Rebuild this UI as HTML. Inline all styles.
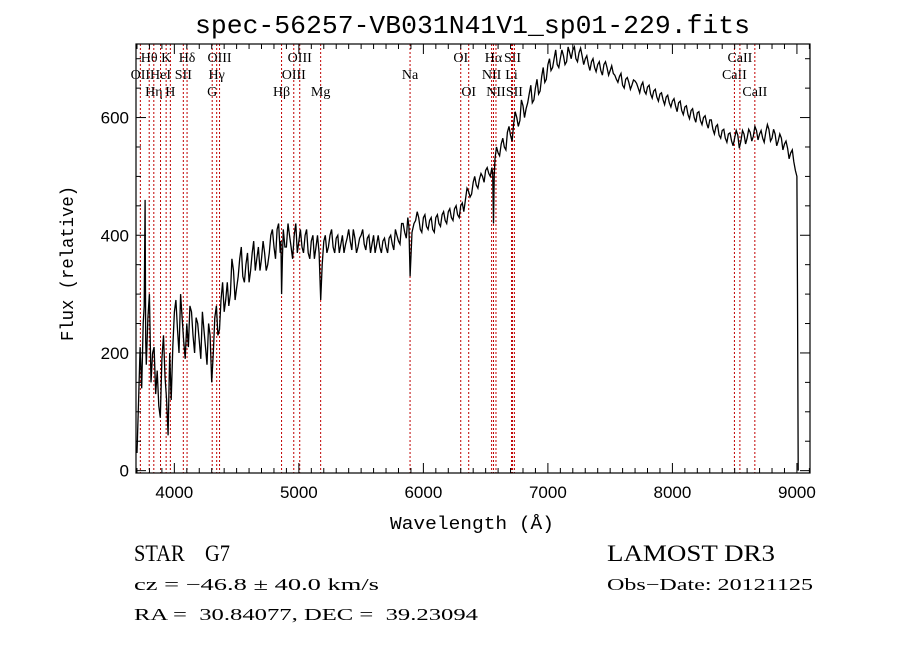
<!DOCTYPE html>
<html><head><meta charset="utf-8"><style>
html,body{margin:0;padding:0;background:#fff;width:900px;height:649px;overflow:hidden}
svg{display:block}
text{white-space:pre}
</style></head><body>
<svg id="chart" width="900" height="649" viewBox="0 0 900 649" xmlns="http://www.w3.org/2000/svg" xml:space="preserve">
<text x="195" y="33" font-family="Liberation Mono, monospace" font-size="26" textLength="555" lengthAdjust="spacingAndGlyphs">spec-56257-VB031N41V1_sp01-229.fits</text>
<g id="lines"></g>
<g id="series"></g>
<g id="axes"></g>
<text x="390" y="529" font-family="Liberation Mono, monospace" font-size="18" textLength="164" lengthAdjust="spacingAndGlyphs">Wavelength (Å)</text>
<text transform="translate(73,341) rotate(-90)" font-family="Liberation Mono, monospace" font-size="18" textLength="155" lengthAdjust="spacingAndGlyphs">Flux (relative)</text>
<text x="134" y="561" font-family="Liberation Serif, serif" font-size="23" textLength="96" lengthAdjust="spacingAndGlyphs">STAR    G7</text>
<text x="607" y="561" font-family="Liberation Serif, serif" font-size="23" textLength="168" lengthAdjust="spacingAndGlyphs">LAMOST DR3</text>
<text x="134" y="590" font-family="Liberation Serif, serif" font-size="17" textLength="245" lengthAdjust="spacingAndGlyphs">cz = −46.8 ± 40.0 km/s</text>
<text x="607" y="590" font-family="Liberation Serif, serif" font-size="17" textLength="206" lengthAdjust="spacingAndGlyphs">Obs−Date: 20121125</text>
<text x="134" y="620" font-family="Liberation Serif, serif" font-size="17" textLength="344" lengthAdjust="spacingAndGlyphs">RA =  30.84077, DEC =  39.23094</text>
</svg>
<script>
const wavelengths = [3700,3725,3750,3765,3775,3800,3825,3850,3875,3900,3925,3950,3975,4000,4025,4050,4075,4100,4125,4150,4175,4200,4225,4250,4275,4300,4325,4350,4375,4400,4425,4450,4475,4500,4525,4550,4575,4600,4625,4650,4675,4700,4725,4750,4775,4800,4825,4850,4861,4875,4900,4925,4950,4975,5000,5025,5050,5075,5100,5125,5150,5175,5200,5225,5250,5275,5300,5325,5350,5375,5400,5425,5450,5475,5500,5525,5550,5575,5600,5625,5650,5675,5700,5725,5750,5775,5800,5825,5850,5875,5893,5925,5950,5975,6000,6025,6050,6075,6100,6125,6150,6175,6200,6225,6250,6275,6300,6325,6350,6375,6400,6425,6450,6475,6500,6525,6550,6563,6575,6600,6625,6650,6675,6700,6725,6750,6775,6800,6825,6850,6875,6900,6925,6950,6975,7000,7025,7050,7075,7100,7125,7150,7175,7200,7225,7250,7275,7300,7325,7350,7375,7400,7425,7450,7475,7500,7525,7550,7575,7600,7625,7650,7675,7700,7725,7750,7775,7800,7825,7850,7875,7900,7925,7950,7975,8000,8025,8050,8075,8100,8125,8150,8175,8200,8225,8250,8275,8300,8325,8350,8375,8400,8425,8450,8475,8500,8525,8550,8575,8600,8625,8650,8675,8700,8725,8750,8775,8800,8825,8850,8875,8900,8925,8950,8975,9000,9010];
const flux = [30,210,250,460,180,300,200,130,110,190,160,60,120,270,240,300,220,250,280,230,260,220,270,210,250,150,260,230,290,270,320,300,340,310,360,330,350,320,370,340,380,360,370,350,400,380,410,370,300,410,380,400,360,420,390,380,400,370,390,360,400,290,390,370,400,380,395,370,400,385,410,375,395,380,400,385,395,370,400,385,380,390,380,395,385,410,390,420,405,430,330,420,440,410,430,415,425,410,430,420,435,425,440,430,445,435,450,440,480,465,490,485,495,500,510,505,515,420,530,540,555,550,575,570,590,600,595,620,615,640,625,650,640,670,660,690,680,700,690,700,705,695,710,715,700,710,705,700,690,695,685,690,680,690,685,680,675,665,670,655,665,660,655,662,650,655,645,652,640,645,635,640,630,635,625,628,620,625,612,618,605,612,600,608,595,600,590,596,580,585,570,578,565,572,560,566,570,560,572,565,575,568,578,572,565,575,580,565,572,560,565,555,548,540,525,500,0];
// flux sampled midway between consecutive wavelengths (fine-scale noise)
const fluxMid = [120,140,280,220,260,150,210,170,90,230,120,200,210,290,200,260,190,210,270,200,250,190,240,180,230,200,280,240,320,290,280,360,290,330,380,320,370,340,390,360,340,390,340,370,410,360,420,390,360,380,420,380,400,370,410,370,410,360,400,380,370,350,400,380,410,370,400,385,370,395,390,410,370,395,410,375,400,385,370,400,370,395,370,400,375,400,385,420,395,415,405,425,430,405,435,410,430,405,435,415,440,420,445,425,450,430,455,460,475,470,500,480,505,490,515,500,505,500,550,535,565,545,585,560,610,585,630,600,625,655,630,665,645,685,665,700,685,715,685,715,690,720,700,720,695,718,690,705,680,700,678,695,672,695,672,688,672,660,675,650,668,648,664,658,642,660,640,655,633,648,628,642,622,638,618,632,610,628,605,620,598,615,592,610,588,603,582,596,572,588,565,580,558,574,552,578,548,578,555,580,560,585,562,578,558,588,560,580,552,572,545,560,530,545,510,300];
const lineWaves = [3727,3798,3835,3889,3934,3968,4072,4102,4304,4340,4363,4861,4959,5007,5175,5893,6300,6364,6548,6563,6583,6708,6716,6731,8498,8542,8662];
const lineNames = ["OII","Hθ","Hη","HeI","K","H","SII","Hδ","G","Hγ","OIII","Hβ","OIII","OIII","Mg","Na","OI","OI","NII","Hα","NII","Li","SII","SII","CaII","CaII","CaII"];
const lineRows = [1,0,2,1,0,2,1,0,2,1,0,2,1,0,2,1,0,2,1,0,2,1,0,2,1,0,2];
const xTicks = [4000,5000,6000,7000,8000,9000];
const yTicks = [0,200,400,600];

const X0=136,X1=810,Y0=44,Y1=473;
const XMIN=3692,XMAX=9105,YMIN=-4,YMAX=725;
const sx=w=>X0+(w-XMIN)/(XMAX-XMIN)*(X1-X0);
const sy=f=>Y1-(f-YMIN)/(YMAX-YMIN)*(Y1-Y0);
const NS="http://www.w3.org/2000/svg";
function mk(tag,attrs,parent){const e=document.createElementNS(NS,tag);for(const k in attrs)e.setAttribute(k,attrs[k]);parent.appendChild(e);return e;}

const gL=document.getElementById('lines');
const rowY=[62,79,96];
lineWaves.forEach((w,i)=>{
  const l=mk('line',{x1:sx(w),x2:sx(w),y1:Y0,y2:Y1,stroke:'#c00000','stroke-width':1,'stroke-dasharray':'2,2'},gL);
  
  
  const t=mk('text',{x:sx(w),y:rowY[lineRows[i]],'text-anchor':'middle','font-family':'Liberation Serif, serif','font-size':14},gL);
  t.textContent=lineNames[i];
  
  
});

const gS=document.getElementById('series');
const pts=[];
wavelengths.forEach((w,i)=>{
  pts.push([w,flux[i]]);
  if(i<wavelengths.length-1 && i<fluxMid.length){pts.push([(w+wavelengths[i+1])/2,fluxMid[i]]);}
});
const d=pts.map((p,i)=>(i?'L':'M')+sx(p[0]).toFixed(1)+','+sy(p[1]).toFixed(1)).join('');
const p=mk('path',{d:d,fill:'none',stroke:'#000','stroke-width':1.3,'stroke-linejoin':'miter'},gS);



const gA=document.getElementById('axes');
const frame=mk('rect',{x:X0,y:Y0,width:X1-X0,height:Y1-Y0,fill:'none',stroke:'#000','stroke-width':1.2},gA);


for(let w=3700;w<=9100;w+=100){
  const x=sx(w),L=(w%1000===0)?10:5;
  mk('line',{x1:x,x2:x,y1:Y1,y2:Y1-L,stroke:'#000'},gA);
  mk('line',{x1:x,x2:x,y1:Y0,y2:Y0+L,stroke:'#000'},gA);
}
xTicks.forEach(w=>{
  const t=mk('text',{x:sx(w),y:Y1+25,'text-anchor':'middle','font-family':'Liberation Sans, sans-serif','font-size':17},gA);
  t.textContent=w;
  
  
});
for(let f=0;f<=700;f+=50){
  const y=sy(f),L=(f%200===0)?10:5;
  mk('line',{x1:X0,x2:X0+L,y1:y,y2:y,stroke:'#000'},gA);
  mk('line',{x1:X1,x2:X1-L,y1:y,y2:y,stroke:'#000'},gA);
}
yTicks.forEach(f=>{
  const t=mk('text',{x:X0-7,y:sy(f)+6,'text-anchor':'end','font-family':'Liberation Sans, sans-serif','font-size':17},gA);
  t.textContent=f;
  
  
});
</script>
</body></html>
